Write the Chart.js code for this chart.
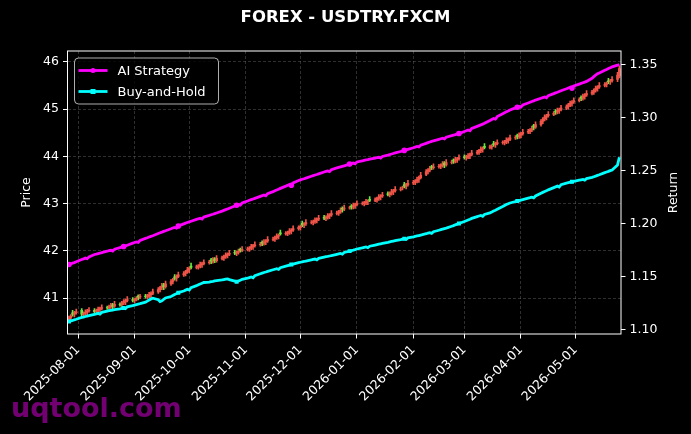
<!DOCTYPE html>
<html>
<head>
    <title>FOREX - USDTRY.FXCM</title>
    <script src="https://cdn.jsdelivr.net/npm/chart.js"></script>
    <style>
        body { margin: 0; background: #000; }
    </style>
</head>
<body>
    <canvas id="fxChart" width="691" height="434"></canvas>

    <script>
        // daily bars are stamped Sun..Thu (5 per week), first one on this date
        const firstBar = '2025-07-27';
        const monthTicks = ['2025-08-01', '2025-09-01', '2025-10-01', '2025-11-01', '2025-12-01',
                            '2026-01-01', '2026-02-01', '2026-03-01', '2026-04-01', '2026-05-01'];
        const priceTicks = [41, 42, 43, 44, 45, 46];
        const returnTicks = [1.10, 1.15, 1.20, 1.25, 1.30, 1.35];

        const opens = [
            40.54, 40.58, 40.69, 40.66, 40.69,  40.74, 40.66, 40.68, 40.70, 40.73,
            40.74, 40.71, 40.74, 40.76, 40.78,  40.80, 40.79, 40.82, 40.86, 40.83,
            40.87, 40.86, 40.90, 40.92, 40.95,  40.97, 40.95, 40.98, 41.04, 41.02,
            41.04, 41.03, 41.05, 41.07, 41.10,  41.13, 41.18, 41.22, 41.28, 41.24,
            41.30, 41.35, 41.45, 41.42, 41.46,  41.49, 41.52, 41.56, 41.60, 41.68,
            41.65, 41.66, 41.68, 41.71, 41.73,  41.75, 41.81, 41.78, 41.83, 41.79,
            41.84, 41.85, 41.88, 41.91, 41.93,  41.97, 41.95, 41.97, 42.03, 42.01,
            42.03, 42.04, 42.06, 42.09, 42.11,  42.13, 42.18, 42.16, 42.19, 42.21,
            42.24, 42.25, 42.28, 42.31, 42.38,  42.36, 42.37, 42.39, 42.42, 42.44,
            42.47, 42.49, 42.58, 42.55, 42.57,  42.60, 42.60, 42.62, 42.65, 42.67,
            42.71, 42.69, 42.71, 42.74, 42.76,  42.79, 42.80, 42.83, 42.90, 42.88,
            42.91, 42.95, 42.93, 42.96, 42.98,  43.00, 43.00, 43.02, 43.04, 43.09,
            43.07, 43.08, 43.11, 43.14, 43.16,  43.21, 43.19, 43.22, 43.25, 43.27,
            43.30, 43.34, 43.40, 43.37, 43.40,  43.43, 43.45, 43.48, 43.51, 43.55,
            43.62, 43.68, 43.71, 43.78, 43.76,  43.78, 43.79, 43.81, 43.86, 43.82,
            43.87, 43.92, 43.90, 43.93, 43.95,  43.99, 43.97, 43.99, 44.01, 44.04,
            44.07, 44.09, 44.12, 44.15, 44.21,  44.19, 44.20, 44.27, 44.25, 44.27,
            44.29, 44.29, 44.31, 44.34, 44.36,  44.39, 44.44, 44.42, 44.45, 44.48,
            44.51, 44.53, 44.56, 44.65, 44.62,  44.67, 44.74, 44.79, 44.83, 44.86,
            44.89, 44.96, 44.94, 44.97, 44.99,  45.02, 45.05, 45.09, 45.12, 45.15,
            45.18, 45.25, 45.23, 45.27, 45.30,  45.33, 45.36, 45.40, 45.44, 45.47,
            45.50, 45.52, 45.60, 45.58, 45.60,  45.63, 45.70
        ];
        const highs = [
            40.62, 40.65, 40.74, 40.72, 40.77,  40.78, 40.71, 40.75, 40.76, 40.80,
            40.78, 40.77, 40.81, 40.81, 40.86,  40.83, 40.85, 40.89, 40.89, 40.93,
            40.90, 40.93, 40.97, 40.98, 41.03,  41.01, 40.99, 41.03, 41.07, 41.08,
            41.08, 41.08, 41.12, 41.13, 41.19,  41.22, 41.25, 41.31, 41.31, 41.36,
            41.39, 41.42, 41.50, 41.49, 41.55,  41.56, 41.59, 41.65, 41.66, 41.74,
            41.70, 41.71, 41.76, 41.76, 41.81,  41.80, 41.84, 41.86, 41.86, 41.90,
            41.89, 41.91, 41.96, 41.96, 42.01,  42.01, 42.00, 42.04, 42.06, 42.09,
            42.08, 42.09, 42.14, 42.14, 42.19,  42.18, 42.21, 42.24, 42.24, 42.30,
            42.29, 42.31, 42.36, 42.36, 42.44,  42.41, 42.42, 42.47, 42.47, 42.53,
            42.53, 42.55, 42.63, 42.60, 42.66,  42.64, 42.65, 42.70, 42.70, 42.75,
            42.75, 42.74, 42.79, 42.79, 42.85,  42.84, 42.86, 42.91, 42.93, 42.97,
            42.95, 42.98, 43.01, 43.01, 43.06,  43.04, 43.05, 43.09, 43.08, 43.15,
            43.12, 43.14, 43.19, 43.19, 43.24,  43.25, 43.25, 43.30, 43.30, 43.36,
            43.35, 43.37, 43.45, 43.43, 43.49,  43.49, 43.51, 43.56, 43.58, 43.66,
            43.72, 43.74, 43.79, 43.81, 43.84,  43.83, 43.84, 43.89, 43.89, 43.93,
            43.92, 43.95, 43.98, 43.98, 44.03,  44.03, 44.02, 44.06, 44.07, 44.13,
            44.13, 44.15, 44.20, 44.20, 44.27,  44.24, 44.25, 44.32, 44.30, 44.35,
            44.33, 44.34, 44.39, 44.39, 44.45,  44.44, 44.47, 44.50, 44.51, 44.57,
            44.57, 44.59, 44.64, 44.68, 44.73,  44.78, 44.82, 44.88, 44.89, 44.95,
            44.95, 44.99, 45.02, 45.02, 45.08,  45.09, 45.12, 45.17, 45.18, 45.24,
            45.24, 45.28, 45.32, 45.33, 45.39,  45.40, 45.43, 45.49, 45.50, 45.56,
            45.56, 45.58, 45.65, 45.63, 45.69,  45.78, 45.91
        ];
        const lows = [
            40.51, 40.53, 40.62, 40.60, 40.66,  40.63, 40.61, 40.64, 40.64, 40.70,
            40.68, 40.66, 40.70, 40.70, 40.75,  40.76, 40.74, 40.78, 40.77, 40.80,
            40.83, 40.81, 40.86, 40.86, 40.92,  40.92, 40.90, 40.94, 40.96, 40.99,
            41.00, 40.98, 41.01, 41.01, 41.07,  41.10, 41.13, 41.18, 41.18, 41.21,
            41.27, 41.30, 41.38, 41.36, 41.43,  41.46, 41.47, 41.52, 41.54, 41.62,
            41.62, 41.61, 41.64, 41.65, 41.70,  41.72, 41.73, 41.74, 41.75, 41.76,
            41.81, 41.80, 41.84, 41.85, 41.90,  41.92, 41.90, 41.93, 41.97, 41.98,
            42.00, 41.99, 42.02, 42.03, 42.08,  42.10, 42.11, 42.12, 42.13, 42.18,
            42.21, 42.20, 42.24, 42.25, 42.33,  42.33, 42.32, 42.35, 42.36, 42.41,
            42.44, 42.44, 42.51, 42.49, 42.54,  42.57, 42.55, 42.58, 42.59, 42.64,
            42.66, 42.64, 42.67, 42.68, 42.73,  42.76, 42.75, 42.79, 42.82, 42.85,
            42.88, 42.88, 42.89, 42.90, 42.95,  42.97, 42.95, 42.98, 42.98, 43.04,
            43.04, 43.03, 43.07, 43.08, 43.13,  43.16, 43.14, 43.18, 43.19, 43.24,
            43.27, 43.29, 43.33, 43.31, 43.37,  43.40, 43.40, 43.44, 43.45, 43.52,
            43.59, 43.63, 43.67, 43.72, 43.73,  43.75, 43.74, 43.77, 43.76, 43.79,
            43.84, 43.85, 43.86, 43.87, 43.92,  43.94, 43.92, 43.95, 43.95, 44.01,
            44.04, 44.04, 44.08, 44.09, 44.16,  44.16, 44.15, 44.21, 44.19, 44.24,
            44.26, 44.24, 44.27, 44.28, 44.33,  44.36, 44.37, 44.38, 44.39, 44.45,
            44.48, 44.48, 44.52, 44.56, 44.59,  44.64, 44.69, 44.75, 44.77, 44.83,
            44.86, 44.89, 44.90, 44.91, 44.96,  44.99, 45.00, 45.05, 45.06, 45.12,
            45.15, 45.18, 45.19, 45.21, 45.27,  45.30, 45.31, 45.36, 45.38, 45.44,
            45.47, 45.47, 45.54, 45.52, 45.57,  45.58, 45.66
        ];
        const closes = [
            40.58, 40.62, 40.66, 40.69, 40.71,  40.66, 40.68, 40.70, 40.73, 40.74,
            40.71, 40.74, 40.76, 40.78, 40.80,  40.79, 40.82, 40.84, 40.83, 40.87,
            40.86, 40.90, 40.92, 40.95, 40.97,  40.95, 40.98, 41.00, 41.02, 41.04,
            41.03, 41.05, 41.07, 41.10, 41.13,  41.18, 41.22, 41.26, 41.24, 41.30,
            41.35, 41.39, 41.42, 41.46, 41.49,  41.52, 41.56, 41.60, 41.63, 41.65,
            41.66, 41.68, 41.71, 41.73, 41.75,  41.76, 41.78, 41.81, 41.79, 41.84,
            41.85, 41.88, 41.91, 41.93, 41.95,  41.95, 41.97, 41.99, 42.01, 42.03,
            42.04, 42.06, 42.09, 42.11, 42.13,  42.14, 42.16, 42.19, 42.21, 42.24,
            42.25, 42.28, 42.31, 42.33, 42.36,  42.37, 42.39, 42.42, 42.44, 42.47,
            42.49, 42.52, 42.55, 42.57, 42.60,  42.60, 42.62, 42.65, 42.67, 42.69,
            42.69, 42.71, 42.74, 42.76, 42.79,  42.80, 42.83, 42.86, 42.88, 42.91,
            42.91, 42.93, 42.96, 42.98, 43.00,  43.00, 43.02, 43.04, 43.05, 43.07,
            43.08, 43.11, 43.14, 43.16, 43.18,  43.19, 43.22, 43.25, 43.27, 43.30,
            43.31, 43.34, 43.37, 43.40, 43.43,  43.45, 43.48, 43.51, 43.55, 43.60,
            43.68, 43.71, 43.74, 43.76, 43.78,  43.79, 43.81, 43.84, 43.82, 43.87,
            43.88, 43.90, 43.93, 43.95, 43.97,  43.97, 43.99, 44.01, 44.04, 44.07,
            44.09, 44.12, 44.15, 44.17, 44.19,  44.20, 44.22, 44.25, 44.27, 44.29,
            44.29, 44.31, 44.34, 44.36, 44.39,  44.40, 44.42, 44.45, 44.48, 44.51,
            44.53, 44.56, 44.59, 44.62, 44.67,  44.74, 44.79, 44.83, 44.86, 44.89,
            44.91, 44.94, 44.97, 44.99, 45.02,  45.05, 45.09, 45.12, 45.15, 45.18,
            45.20, 45.23, 45.27, 45.30, 45.33,  45.36, 45.40, 45.44, 45.47, 45.50,
            45.52, 45.55, 45.58, 45.60, 45.63,  45.72, 45.86
        ];

        // cumulative return (right axis)
        const aiStrategy = [
            1.1617, 1.1622, 1.1631, 1.1636, 1.1644,  1.1665, 1.1671, 1.1678, 1.1672, 1.1690,
            1.1712, 1.1716, 1.1721, 1.1724, 1.1730,  1.1743, 1.1748, 1.1752, 1.1744, 1.1762,
            1.1776, 1.1781, 1.1787, 1.1792, 1.1799,  1.1819, 1.1825, 1.1831, 1.1826, 1.1844,
            1.1864, 1.1870, 1.1877, 1.1883, 1.1889,  1.1910, 1.1917, 1.1923, 1.1930, 1.1936,
            1.1955, 1.1962, 1.1968, 1.1962, 1.1981,  1.2001, 1.2008, 1.2014, 1.2020, 1.2026,
            1.2043, 1.2049, 1.2054, 1.2047, 1.2065,  1.2081, 1.2087, 1.2092, 1.2098, 1.2104,
            1.2121, 1.2128, 1.2135, 1.2142, 1.2149,  1.2170, 1.2177, 1.2184, 1.2178, 1.2198,
            1.2217, 1.2224, 1.2230, 1.2236, 1.2242,  1.2261, 1.2267, 1.2274, 1.2266, 1.2286,
            1.2305, 1.2313, 1.2320, 1.2328, 1.2336,  1.2357, 1.2365, 1.2372, 1.2366, 1.2388,
            1.2410, 1.2416, 1.2422, 1.2427, 1.2433,  1.2450, 1.2456, 1.2462, 1.2467, 1.2473,
            1.2490, 1.2496, 1.2501, 1.2494, 1.2513,  1.2529, 1.2534, 1.2539, 1.2544, 1.2549,
            1.2565, 1.2570, 1.2575, 1.2568, 1.2585,  1.2596, 1.2600, 1.2604, 1.2607, 1.2611,
            1.2622, 1.2626, 1.2629, 1.2622, 1.2637,  1.2650, 1.2655, 1.2660, 1.2665, 1.2670,
            1.2684, 1.2689, 1.2694, 1.2699, 1.2704,  1.2719, 1.2725, 1.2731, 1.2726, 1.2743,
            1.2761, 1.2767, 1.2773, 1.2779, 1.2785,  1.2799, 1.2804, 1.2809, 1.2802, 1.2819,
            1.2833, 1.2838, 1.2843, 1.2849, 1.2853,  1.2873, 1.2880, 1.2887, 1.2880, 1.2901,
            1.2921, 1.2928, 1.2935, 1.2942, 1.2950,  1.2977, 1.2986, 1.2995, 1.2990, 1.3013,
            1.3040, 1.3049, 1.3058, 1.3066, 1.3075,  1.3095, 1.3102, 1.3109, 1.3103, 1.3122,
            1.3142, 1.3149, 1.3156, 1.3162, 1.3169,  1.3186, 1.3192, 1.3198, 1.3191, 1.3211,
            1.3230, 1.3237, 1.3243, 1.3250, 1.3257,  1.3276, 1.3283, 1.3289, 1.3282, 1.3302,
            1.3320, 1.3326, 1.3332, 1.3338, 1.3345,  1.3375, 1.3390, 1.3405, 1.3418, 1.3425,
            1.3450, 1.3458, 1.3466, 1.3474, 1.3482,  1.3498, 1.3505
        ];
        const buyAndHold = [
            1.1080, 1.1085, 1.1090, 1.1096, 1.1101,  1.1118, 1.1122, 1.1127, 1.1131, 1.1135,
            1.1148, 1.1152, 1.1157, 1.1150, 1.1166,  1.1178, 1.1182, 1.1185, 1.1188, 1.1191,
            1.1199, 1.1203, 1.1208, 1.1201, 1.1218,  1.1230, 1.1234, 1.1239, 1.1244, 1.1248,
            1.1262, 1.1272, 1.1282, 1.1292, 1.1300,  1.1285, 1.1268, 1.1275, 1.1290, 1.1302,
            1.1316, 1.1325, 1.1334, 1.1343, 1.1352,  1.1368, 1.1376, 1.1384, 1.1377, 1.1400,
            1.1418, 1.1426, 1.1434, 1.1441, 1.1448,  1.1452, 1.1456, 1.1459, 1.1463, 1.1466,
            1.1472, 1.1476, 1.1480, 1.1482, 1.1475,  1.1460, 1.1455, 1.1462, 1.1470, 1.1478,
            1.1488, 1.1494, 1.1500, 1.1493, 1.1512,  1.1530, 1.1536, 1.1542, 1.1547, 1.1553,
            1.1568, 1.1573, 1.1578, 1.1571, 1.1588,  1.1602, 1.1607, 1.1612, 1.1617, 1.1622,
            1.1635, 1.1639, 1.1643, 1.1646, 1.1650,  1.1661, 1.1665, 1.1669, 1.1662, 1.1676,
            1.1687, 1.1691, 1.1694, 1.1698, 1.1702,  1.1714, 1.1718, 1.1722, 1.1715, 1.1731,
            1.1744, 1.1749, 1.1753, 1.1758, 1.1764,  1.1775, 1.1779, 1.1783, 1.1776, 1.1790,
            1.1801, 1.1805, 1.1809, 1.1813, 1.1817,  1.1827, 1.1831, 1.1835, 1.1839, 1.1843,
            1.1853, 1.1857, 1.1861, 1.1854, 1.1869,  1.1879, 1.1883, 1.1887, 1.1891, 1.1895,
            1.1908, 1.1913, 1.1918, 1.1911, 1.1927,  1.1941, 1.1946, 1.1951, 1.1956, 1.1961,
            1.1979, 1.1985, 1.1992, 1.1998, 1.2004,  1.2024, 1.2031, 1.2038, 1.2045, 1.2053,
            1.2070, 1.2075, 1.2080, 1.2073, 1.2090,  1.2105, 1.2113, 1.2122, 1.2130, 1.2139,
            1.2165, 1.2174, 1.2183, 1.2191, 1.2198,  1.2212, 1.2216, 1.2221, 1.2225, 1.2230,
            1.2244, 1.2248, 1.2253, 1.2246, 1.2264,  1.2290, 1.2298, 1.2306, 1.2314, 1.2322,
            1.2343, 1.2350, 1.2357, 1.2349, 1.2371,  1.2386, 1.2390, 1.2394, 1.2398, 1.2402,
            1.2413, 1.2417, 1.2421, 1.2414, 1.2428,  1.2440, 1.2446, 1.2452, 1.2458, 1.2464,
            1.2484, 1.2490, 1.2496, 1.2503, 1.2510,  1.2557, 1.2630
        ];

        const UP = 'rgb(240, 84, 72)';
        const DOWN = 'rgb(104, 232, 60)';
        const FONT = 'DejaVu Sans';

        // x axis is "days since 2025-08-01"
        const dayNum = s => Date.parse(s + 'T00:00:00Z') / 86400000;
        const origin = dayNum(monthTicks[0]);
        const start = dayNum(firstBar) - origin;
        const xs = closes.map((c, i) => start + Math.floor(i / 5) * 7 + (i % 5));
        const tickPos = monthTicks.map(d => dayNum(d) - origin);

        const barColors = closes.map((c, i) => c >= opens[i] ? UP : DOWN);

        Chart.defaults.font.family = FONT;
        Chart.defaults.color = '#fff';

        const decorations = {
            id: 'decorations',
            beforeDraw(chart) {
                const ctx = chart.ctx;
                ctx.save();
                ctx.fillStyle = '#000';
                ctx.fillRect(0, 0, chart.width, chart.height);
                // site watermark sits under the tick labels
                ctx.font = 'bold 27px ' + FONT;
                ctx.fillStyle = 'rgba(128, 0, 128, 0.9)';
                ctx.textBaseline = 'alphabetic';
                ctx.fillText('uqtool.com', 11, 417);
                ctx.restore();
            },
            afterDatasetsDraw(chart) {
                const {ctx, chartArea: a} = chart;
                ctx.save();
                ctx.strokeStyle = '#fff';
                ctx.lineWidth = 1;
                ctx.strokeRect(a.left, a.top, a.right - a.left, a.bottom - a.top);

                // legend box, top left inside the axes
                const bx = a.left + 7, by = a.top + 7, bw = 144, bh = 46;
                ctx.beginPath();
                ctx.roundRect(bx, by, bw, bh, 4);
                ctx.fillStyle = 'rgba(0, 0, 0, 0.8)';
                ctx.fill();
                ctx.strokeStyle = 'rgba(204, 204, 204, 0.85)';
                ctx.stroke();

                [0, 1].forEach(i => {
                    const ds = chart.data.datasets[i];
                    const y = by + 12.5 + i * 21;
                    ctx.strokeStyle = ds.borderColor;
                    ctx.lineWidth = 2.8;
                    ctx.beginPath();
                    ctx.moveTo(bx + 4, y);
                    ctx.lineTo(bx + 33, y);
                    ctx.stroke();
                    ctx.fillStyle = ds.borderColor;
                    if (ds.pointStyle === 'rect') {
                        ctx.fillRect(bx + 16, y - 2.5, 5, 5);
                    } else {
                        ctx.beginPath();
                        ctx.arc(bx + 18.5, y, 2.5, 0, Math.PI * 2);
                        ctx.fill();
                    }
                    ctx.fillStyle = '#fff';
                    ctx.font = '13px ' + FONT;
                    ctx.textBaseline = 'middle';
                    ctx.fillText(ds.label, bx + 43, y + 1);
                });

                // right axis label reads bottom-to-top
                ctx.translate(674, a.top + (a.bottom - a.top) / 2);
                ctx.rotate(-Math.PI / 2);
                ctx.font = '12.5px ' + FONT;
                ctx.fillStyle = '#fff';
                ctx.textAlign = 'center';
                ctx.textBaseline = 'middle';
                ctx.fillText('Return', 0, 0);
                ctx.restore();
            }
        };

        const markerRadius = c => (c.dataIndex % 22 === 0 ? 2.8 : 0);

        const chart = new Chart(document.getElementById('fxChart'), {
            type: 'bar',
            data: {
                datasets: [
                    {
                        type: 'line',
                        label: 'AI Strategy',
                        data: xs.map((x, i) => ({x: x, y: aiStrategy[i]})),
                        yAxisID: 'y1',
                        borderColor: '#ff00ff',
                        backgroundColor: '#ff00ff',
                        borderWidth: 2.8,
                        pointStyle: 'circle',
                        pointRadius: markerRadius,
                        pointBorderWidth: 0,
                        tension: 0
                    },
                    {
                        type: 'line',
                        label: 'Buy-and-Hold',
                        data: xs.map((x, i) => ({x: x, y: buyAndHold[i]})),
                        yAxisID: 'y1',
                        borderColor: '#00ffff',
                        backgroundColor: '#00ffff',
                        borderWidth: 2.8,
                        pointStyle: 'rect',
                        pointRadius: markerRadius,
                        pointBorderWidth: 0,
                        tension: 0
                    },
                    {
                        label: 'body',
                        data: xs.map((x, i) => ({x: x, y: [opens[i], closes[i]]})),
                        yAxisID: 'y',
                        backgroundColor: barColors,
                        barThickness: 2,
                        grouped: false
                    },
                    {
                        label: 'wick',
                        data: xs.map((x, i) => ({x: x, y: [lows[i], highs[i]]})),
                        yAxisID: 'y',
                        backgroundColor: barColors,
                        barThickness: 1,
                        grouped: false
                    }
                ]
            },
            options: {
                responsive: false,
                animation: false,
                events: [],
                layout: { padding: 0 },
                plugins: {
                    legend: { display: false },
                    tooltip: { enabled: false },
                    title: {
                        display: true,
                        text: 'FOREX - USDTRY.FXCM',
                        color: '#fff',
                        font: { size: 16.5, weight: 'bold' },
                        padding: { top: 8, bottom: 23.2 }
                    }
                },
                scales: {
                    x: {
                        type: 'linear',
                        min: -5.8,
                        max: 297.9,
                        offset: false,
                        afterBuildTicks: s => { s.ticks = tickPos.map(v => ({value: v})); },
                        afterFit: s => { s.height = 100; },
                        ticks: {
                            callback: (v, i) => monthTicks[i],
                            autoSkip: false,
                            minRotation: 45,
                            maxRotation: 45,
                            padding: 4,
                            color: '#fff',
                            font: { size: 12.5 }
                        },
                        grid: {
                            offset: false,
                            color: 'rgba(128, 128, 128, 0.45)',
                            lineWidth: 0.8,
                            tickColor: '#fff',
                            tickLength: 4.5,
                            tickWidth: 1
                        },
                        border: { display: false, dash: [3, 2] }
                    },
                    y: {
                        position: 'left',
                        min: 40.24,
                        max: 46.23,
                        afterBuildTicks: s => { s.ticks = priceTicks.map(v => ({value: v})); },
                        afterFit: s => { s.width = 67.5; },
                        ticks: { padding: 4, color: '#fff', font: { size: 12.5 } },
                        grid: {
                            color: 'rgba(128, 128, 128, 0.45)',
                            lineWidth: 0.8,
                            tickColor: '#fff',
                            tickLength: 4.5,
                            tickWidth: 1
                        },
                        border: { display: false, dash: [3, 2] },
                        title: {
                            display: true,
                            text: 'Price',
                            color: '#fff',
                            font: { size: 12.5 },
                            padding: { top: 19.5, bottom: 0 }
                        }
                    },
                    y1: {
                        position: 'right',
                        min: 1.0962,
                        max: 1.3632,
                        afterBuildTicks: s => { s.ticks = returnTicks.map(v => ({value: v})); },
                        afterFit: s => { s.width = 70; },
                        ticks: {
                            callback: v => v.toFixed(2),
                            padding: 4,
                            color: '#fff',
                            font: { size: 12.5 }
                        },
                        grid: {
                            drawOnChartArea: false,
                            tickColor: '#fff',
                            tickLength: 4.5,
                            tickWidth: 1
                        },
                        border: { display: false }
                    }
                }
            },
            plugins: [decorations]
        });
    </script>
</body>
</html>
